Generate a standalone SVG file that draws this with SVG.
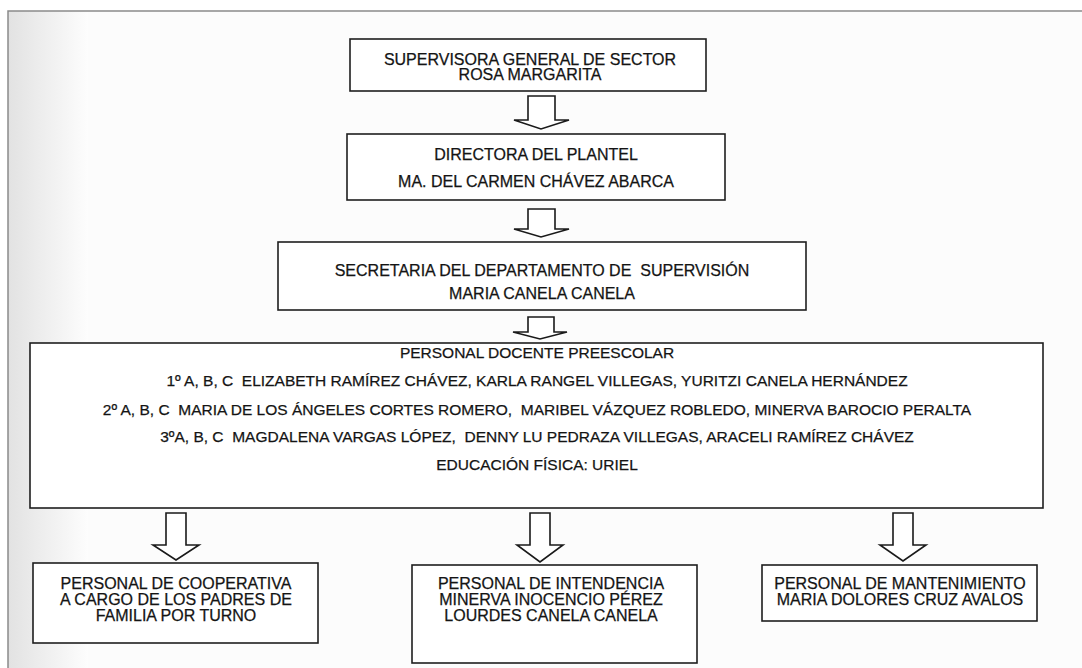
<svg xmlns="http://www.w3.org/2000/svg" width="1082" height="668" viewBox="0 0 1082 668">
<defs>
<linearGradient id="leftShade" x1="0" y1="0" x2="1" y2="0">
<stop offset="0" stop-color="#e2e2e2"/>
<stop offset="1" stop-color="#fdfdfd"/>
</linearGradient>
<style>
.box{fill:#ffffff;stroke:#1e1e1e;stroke-width:1.6}
.t{font-family:"Liberation Sans",Arial,sans-serif;font-size:16px;fill:#141414;stroke:#141414;stroke-width:0.25;text-anchor:middle;white-space:pre}
.s{font-size:15.5px}
.arrow{fill:#ffffff;stroke:#1a1a1a;stroke-width:1.6;stroke-linejoin:miter}
.frame{stroke:#8a8a8a;stroke-width:1.5;fill:none}
</style>
</defs>
<rect x="0" y="0" width="1082" height="668" fill="#ffffff"/>
<rect x="8" y="11" width="1074" height="657" fill="#fcfcfc"/>
<rect x="8" y="11" width="80" height="657" fill="url(#leftShade)"/>
<path class="frame" d="M8 668 V11 H1082"/>

<g id="connectors">
<polygon class="arrow" points="528,96 555,96 555,120 569,120 541,129 514,120 528,120"/>
<polygon class="arrow" points="528,209 555,209 555,229 569,229 541,237 514,229 528,229"/>
<polygon class="arrow" points="528,317 554,317 554,332 567,332 540,339 513,332 528,332"/>
<polygon class="arrow" points="166,513 186,513 186,545 199,545 176,560 153,545 166,545"/>
<polygon class="arrow" points="530,513 550,513 550,545 563,545 540,562 517,545 530,545"/>
<polygon class="arrow" points="893,513 913,513 913,545 926,545 903,561 880,545 893,545"/>
</g>

<g id="node-supervisora">
<rect class="box" x="350" y="39" width="356" height="52"/>
<text class="t" x="530" y="65">SUPERVISORA GENERAL DE SECTOR</text>
<text class="t" x="530" y="80">ROSA MARGARITA</text>
</g>

<g id="node-directora">
<rect class="box" x="347" y="134" width="378" height="66"/>
<text class="t" x="536" y="160">DIRECTORA DEL PLANTEL</text>
<text class="t" x="536" y="187">MA. DEL CARMEN CHÁVEZ ABARCA</text>
</g>

<g id="node-secretaria">
<rect class="box" x="278" y="242" width="528" height="68"/>
<text class="t" x="542" y="276">SECRETARIA DEL DEPARTAMENTO DE  SUPERVISIÓN</text>
<text class="t" x="542" y="299">MARIA CANELA CANELA</text>
</g>

<g id="node-docente">
<rect class="box" x="30" y="343" width="1013" height="165"/>
<text class="t s" x="537" y="358">PERSONAL DOCENTE PREESCOLAR</text>
<text class="t s" x="537" y="386">1º A, B, C  ELIZABETH RAMÍREZ CHÁVEZ, KARLA RANGEL VILLEGAS, YURITZI CANELA HERNÁNDEZ</text>
<text class="t s" x="537" y="415">2º A, B, C  MARIA DE LOS ÁNGELES CORTES ROMERO,  MARIBEL VÁZQUEZ ROBLEDO, MINERVA BAROCIO PERALTA</text>
<text class="t s" x="537" y="442">3ºA, B, C  MAGDALENA VARGAS LÓPEZ,  DENNY LU PEDRAZA VILLEGAS, ARACELI RAMÍREZ CHÁVEZ</text>
<text class="t s" x="537" y="470">EDUCACIÓN FÍSICA: URIEL</text>
</g>

<g id="node-cooperativa">
<rect class="box" x="33" y="563" width="285" height="80"/>
<text class="t" x="176" y="589">PERSONAL DE COOPERATIVA</text>
<text class="t" x="176" y="605">A CARGO DE LOS PADRES DE</text>
<text class="t" x="176" y="621">FAMILIA POR TURNO</text>
</g>

<g id="node-intendencia">
<rect class="box" x="412" y="565" width="285" height="98"/>
<text class="t" x="551" y="589">PERSONAL DE INTENDENCIA</text>
<text class="t" x="551" y="605">MINERVA INOCENCIO PÉREZ</text>
<text class="t" x="551" y="621">LOURDES CANELA CANELA</text>
</g>

<g id="node-mantenimiento">
<rect class="box" x="762" y="565" width="275" height="56"/>
<text class="t" x="900" y="589">PERSONAL DE MANTENIMIENTO</text>
<text class="t" x="900" y="605">MARIA DOLORES CRUZ AVALOS</text>
</g>
</svg>
